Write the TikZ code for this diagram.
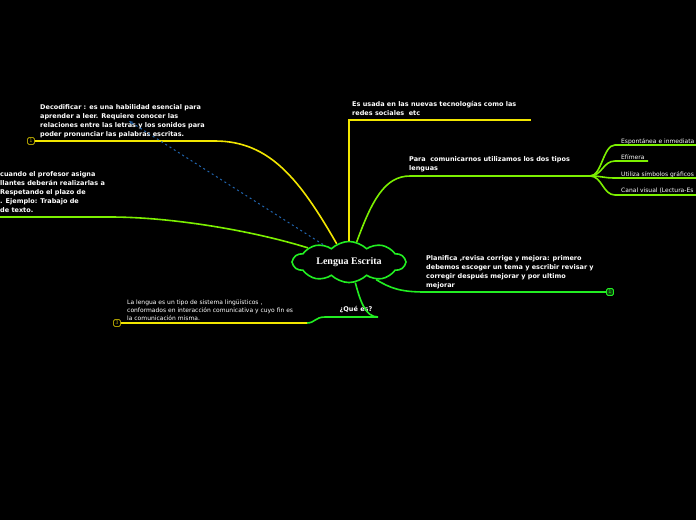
\documentclass[tikz,border=0pt]{standalone}
\usepackage{fontspec}
\setmainfont{DejaVu Sans}
\newfontfamily\cloudfont{Liberation Serif}
\usetikzlibrary{arrows.meta, shapes.symbols}
\definecolor{mapyellow}{HTML}{F2E600}
\definecolor{mapgreen}{HTML}{22EE22}
\definecolor{maplime}{HTML}{7CF000}
\definecolor{mapblue}{HTML}{2266B0}
\definecolor{badgeyellow}{HTML}{A89A00}
\definecolor{badgegreen}{HTML}{0B4A0B}

\begin{document}
\begin{tikzpicture}[x=1pt, y=-1pt,
  note/.style={anchor=north west, inner sep=0pt, align=left, text=white,
    font=\fontsize{6.5}{9}\selectfont\bfseries},
  leaf/.style={note, font=\fontsize{6}{8}\selectfont},
  badge/.style={draw, rounded corners=1.5pt, line width=0.8pt, minimum size=7pt,
    inner sep=0pt, font=\fontsize{5}{5}\selectfont},
  branch/.style={line width=1.6pt}]
  \useasboundingbox (0,0) rectangle (696,520);
  \fill[black] (0,0) rectangle (696,520);

  \node[note] (dec) at (40,104.5)
    {Decodificar : es una habilidad esencial para\\aprender a leer. Requiere conocer las\\relaciones entre las letras y los sonidos para\\poder pronunciar las palabras escritas.};
  \node[note] (task) at (0,171.5)
    {cuando el profesor asigna\\llantes deberán realizarlas a\\Respetando el plazo de\\. Ejemplo: Trabajo de\\de texto.};
  \node[note] (tech) at (352,101.5)
    {Es usada en las nuevas tecnologías como las\\redes sociales\ \ etc};
  \node[note] (types) at (409,156.5)
    {Para\ \ comunicarnos utilizamos los dos tipos\\lenguas};
  \node[note] (plan) at (426,255.5)
    {Planifica ,revisa corrige y mejora: primero\\debemos escoger un tema y escribir revisar y\\corregir después mejorar y por ultimo\\mejorar};
  \node[leaf] (def) at (127,299)
    {La lengua es un tipo de sistema lingüísticos ,\\conformados en interacción comunicativa y cuyo fin es\\la comunicación misma.};
  \node[note, anchor=center] (que) at (356,310) {¿Qué es?};
  \node[leaf] (sp) at (621,138) {Espontánea e inmediata};
  \node[leaf] (ef) at (621,154) {Efímera};
  \node[leaf] (sy) at (621,171) {Utiliza símbolos gráficos};
  \node[leaf] (cv) at (621,188) {Canal visual (Lectura-Es};

  \node[badge, draw=badgeyellow, text=badgeyellow, fill=black] (b1) at (31,141) {1};
  \node[badge, draw=badgeyellow, text=badgeyellow, fill=black] (b3) at (117,323) {3};
  \node[badge, draw=mapgreen, text=mapgreen, fill=badgegreen] (b2) at (610,292) {1};

  \coordinate (task-end) at (-2,217);
  \coordinate (tech-end) at (531,120);
  \coordinate (fan) at (590,176);
  \coordinate (que-r) at (378,317);
  \coordinate (que-l) at (325,317);
  \coordinate (que-j) at (307,323);
  \coordinate (dec-tip) at (129,121);

  \node[cloud, cloud puffs=10, cloud puff arc=90, aspect=3, draw=mapgreen,
    line width=1.6pt, fill=black, minimum width=112pt, minimum height=39pt,
    inner sep=0pt, text=white, font=\cloudfont\bfseries\fontsize{10}{12}\selectfont]
    (core) at (349,262) {Lengua Escrita};

  \draw[branch, mapyellow] (core.124) .. controls (300,180) and (270,141) .. (215,141) -- (b1);
  \draw[branch, maplime] (core.161) .. controls (250,230) and (170,217) .. (110,217) -- (task-end);
  \draw[branch, mapyellow] (core.90) |- (tech-end);
  \draw[branch, maplime] (core.69) .. controls (372,200) and (385,176) .. (410,176) -- (fan);
  \foreach \y/\e in {145/698, 161/648, 178/698, 195/698}
    \draw[branch, maplime] (fan) .. controls (602,176) and (603,\y) .. (615,\y) -- (\e,\y);
  \draw[branch, mapgreen] (core.-33) .. controls (390,288) and (400,292) .. (425,292) -- (b2);
  \draw[branch, mapgreen] (core.-73) .. controls (360,300) and (365,317) .. (que-r)
    -- (que-l) .. controls (315,317) and (315,323) .. (que-j);
  \draw[branch, mapyellow] (que-j) -- (b3);
  \draw[mapblue, line width=1pt, dash pattern=on 2pt off 3pt, -{Stealth[length=4pt]}]
    (core.146) -- (dec-tip);
\end{tikzpicture}
\end{document}
